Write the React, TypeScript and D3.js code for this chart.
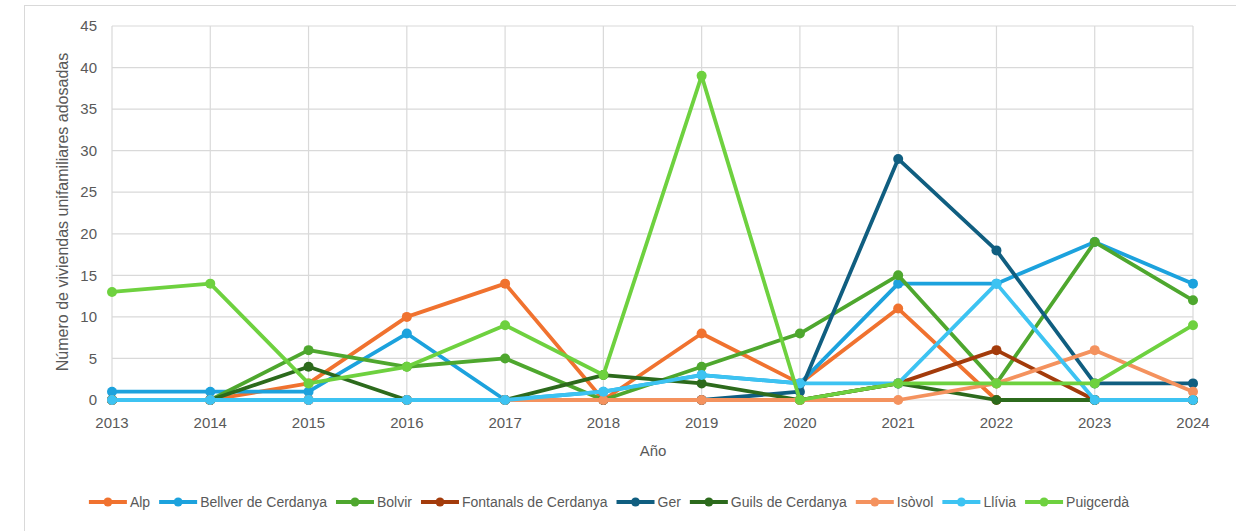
import React from 'react';
import * as d3 from 'd3';

const years = [2013, 2014, 2015, 2016, 2017, 2018, 2019, 2020, 2021, 2022, 2023, 2024];
const yTicks = [0, 5, 10, 15, 20, 25, 30, 35, 40, 45];

const alp = [0, 0, 2, 10, 14, 0, 8, 2, 11, 0, 0, 0];
const bellver = [1, 1, 1, 8, 0, 1, 3, 2, 14, 14, 19, 14];
const bolvir = [0, 0, 6, 4, 5, 0, 4, 8, 15, 2, 19, 12];
const fontanals = [0, 0, 0, 0, 0, 0, 0, 0, 2, 6, 0, 0];
const ger = [0, 0, 0, 0, 0, 0, 0, 1, 29, 18, 2, 2];
const guils = [0, 0, 4, 0, 0, 3, 2, 0, 2, 0, 0, 0];
const isovol = [0, 0, 0, 0, 0, 0, 0, 0, 0, 2, 6, 1];
const llivia = [0, 0, 0, 0, 0, 1, 3, 2, 2, 14, 0, 0];
const puigcerda = [13, 14, 2, 4, 9, 3, 39, 0, 2, 2, 2, 9];

const series = [
  { name: 'Alp', values: alp, color: '#F0722F' },
  { name: 'Bellver de Cerdanya', values: bellver, color: '#1CA2DD' },
  { name: 'Bolvir', values: bolvir, color: '#4EA72E' },
  { name: 'Fontanals de Cerdanya', values: fontanals, color: '#A33B0B' },
  { name: 'Ger', values: ger, color: '#105E80' },
  { name: 'Guils de Cerdanya', values: guils, color: '#2C6A1C' },
  { name: 'Isòvol', values: isovol, color: '#F4925E' },
  { name: 'Llívia', values: llivia, color: '#3DC3F2' },
  { name: 'Puigcerdà', values: puigcerda, color: '#6ED13F' },
];

const W = 1236;
const H = 531;
const FONT = '"Liberation Sans", Arial, sans-serif';

const measure = (text: string, size: number) => {
  const ctx = document.createElement('canvas').getContext('2d');
  if (!ctx) return text.length * size * 0.5;
  ctx.font = `${size}px ${FONT}`;
  return ctx.measureText(text).width;
};

export default function App() {
  const plot = { left: 112, right: 1193, top: 26, bottom: 400 };

  const x = d3.scalePoint<number>().domain(years).range([plot.left, plot.right]);
  const y = d3.scaleLinear().domain([0, 45]).range([plot.bottom, plot.top]);

  const line = d3
    .line<number>()
    .x((_, i) => x(years[i]) as number)
    .y((d) => y(d));

  // legend layout
  const legendSize = 14;
  const swatch = 38;
  const items = series.map((s) => ({ ...s, w: swatch + 3 + measure(s.name, legendSize) }));
  const gap = 9;
  const total = d3.sum(items, (d) => d.w) + gap * (items.length - 1);
  let cursor = 609 - total / 2;
  const legend = items.map((it) => {
    const pos = cursor;
    cursor += it.w + gap;
    return { ...it, x: pos };
  });

  return (
    <svg
      width={W}
      height={H}
      style={{ position: 'absolute', left: 0, top: 0, background: '#fff' }}
      fontFamily={FONT}
    >
      <rect x={24.5} y={5.5} width={1230} height={540} fill="#fff" stroke="#D9D9D9" />

      <g className="grid">
        {yTicks.map((t) => (
          <line key={t} x1={plot.left} x2={plot.right} y1={y(t)} y2={y(t)} stroke="#D9D9D9" strokeWidth={1.2} />
        ))}
        {years.map((yr) => (
          <line key={yr} x1={x(yr)} x2={x(yr)} y1={plot.top} y2={plot.bottom} stroke="#D9D9D9" strokeWidth={1.2} />
        ))}
      </g>

      <g className="ticks" fill="#595959" fontSize={15}>
        {yTicks.map((t) => (
          <text key={t} x={plot.left - 15} y={y(t)} dy="0.35em" textAnchor="end">
            {t}
          </text>
        ))}
        {years.map((yr) => (
          <text key={yr} x={x(yr)} y={plot.bottom + 23} dy="0.35em" textAnchor="middle">
            {yr}
          </text>
        ))}
      </g>

      <text x={653} y={451} dy="0.35em" textAnchor="middle" fill="#595959" fontSize={15}>
        Año
      </text>
      <text
        transform={`translate(62, 212) rotate(-90)`}
        dy="0.35em"
        textAnchor="middle"
        fill="#595959"
        fontSize={16}
      >
        Número de viviendas unifamiliares adosadas
      </text>

      <g className="data">
        {series.map((s) => (
          <g key={s.name}>
            <path d={line(s.values) || ''} fill="none" stroke={s.color} strokeWidth={3.8} strokeLinejoin="round" />
            {s.values.map((v, i) => (
              <circle key={i} cx={x(years[i])} cy={y(v)} r={5} fill={s.color} />
            ))}
          </g>
        ))}
      </g>

      <g className="legend" fontSize={legendSize} fill="#595959">
        {legend.map((it) => (
          <g key={it.name} transform={`translate(${it.x}, 502)`}>
            <line x1={0} x2={swatch} y1={0} y2={0} stroke={it.color} strokeWidth={3.8} />
            <circle cx={swatch / 2} cy={0} r={4.5} fill={it.color} />
            <text x={swatch + 3} y={0} dy="0.35em" fill="#595959">
              {it.name}
            </text>
          </g>
        ))}
      </g>
    </svg>
  );
}
